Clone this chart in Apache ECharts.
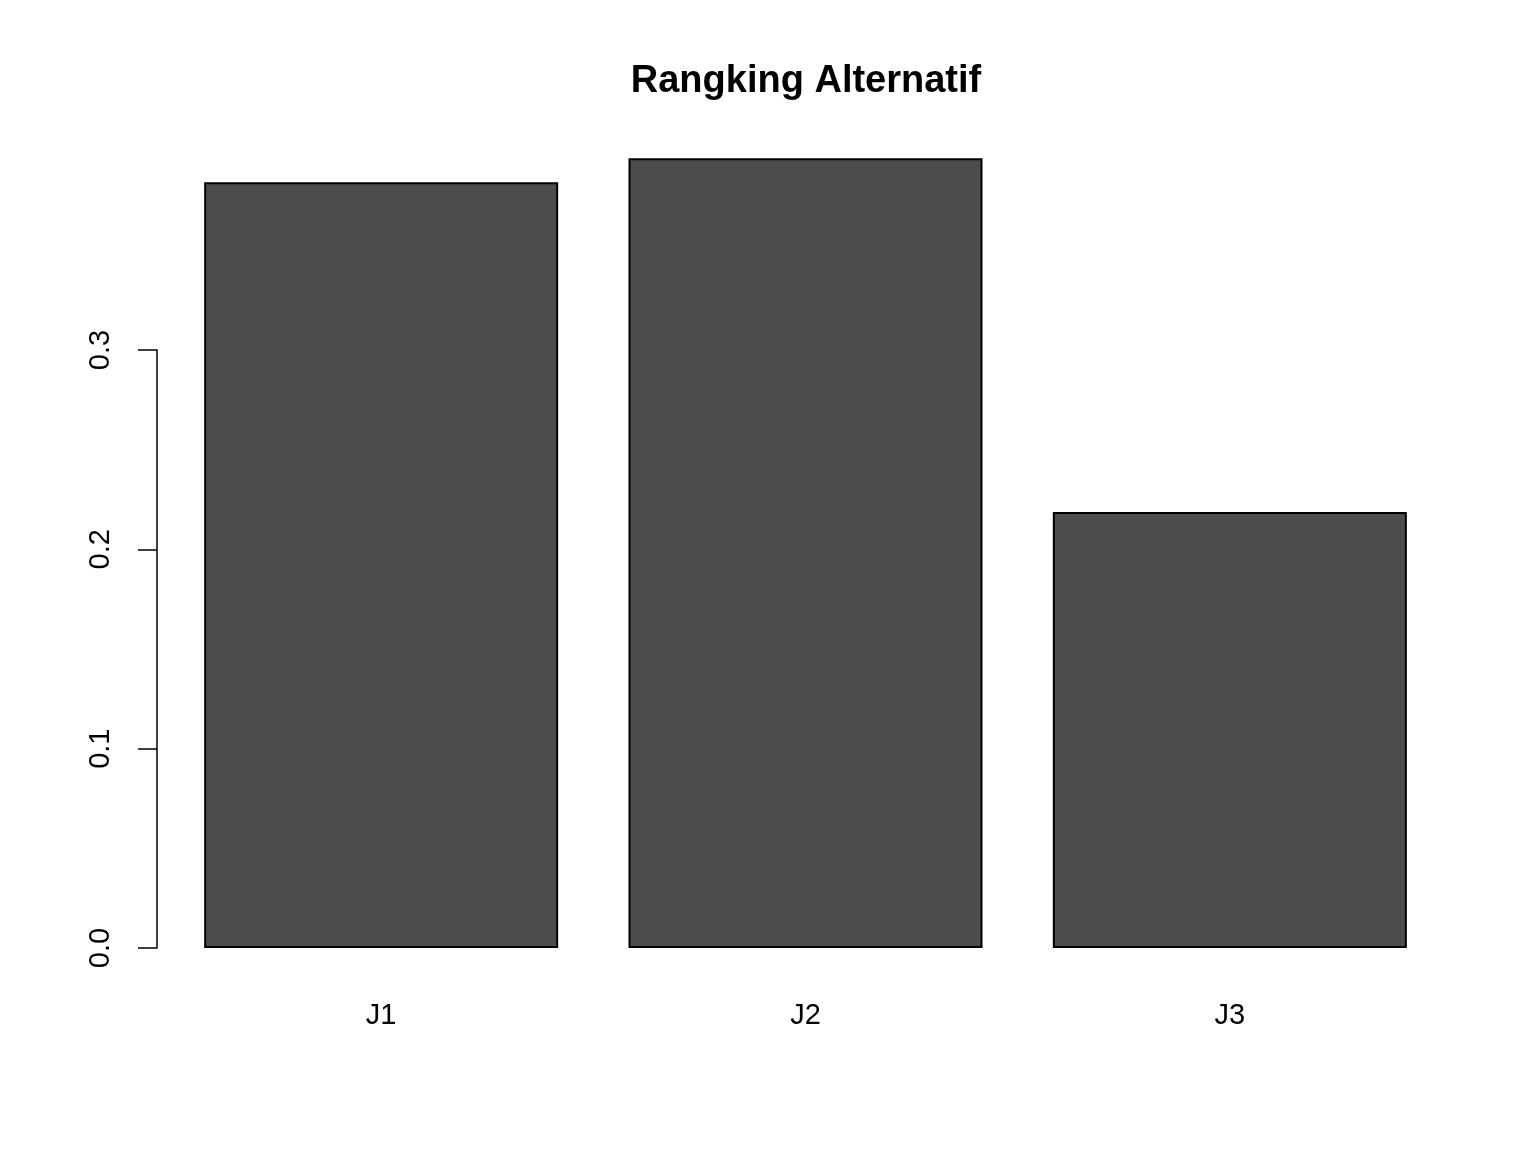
<!DOCTYPE html>
<html>
<head>
<meta charset="utf-8">
<script src="https://cdn.jsdelivr.net/npm/echarts@6/dist/echarts.min.js"></script>
<style>html,body{margin:0;padding:0;background:#fff}#c{width:1536px;height:1152px}</style>
</head>
<body>
<div id="c"></div>
<script>
const categories = ['J1', 'J2', 'J3'];
const values = [0.3843, 0.3964, 0.2188];
const yTicks = [0, 0.1, 0.2, 0.3];

const chart = echarts.init(document.getElementById('c'), null, {renderer: 'canvas'});
const font = 'Liberation Sans, Arial, sans-serif';
chart.setOption({
  backgroundColor: '#ffffff',
  animation: false,
  title: {
    text: 'Rangking Alternatif',
    left: 801, top: 58, textAlign: 'center',
    textStyle: {fontFamily: font, fontSize: 38, fontWeight: 'bold', color: '#000'}
  },
  grid: [
    {left: 169, width: 1273, top: 151, bottom: 204},
    {left: 157, width: 10, top: 350, bottom: 204}
  ],
  xAxis: [
    {type: 'category', gridIndex: 0, data: categories, boundaryGap: true,
     axisLine: {show: false}, axisTick: {show: false},
     axisLabel: {margin: 53, fontFamily: font, fontSize: 29, color: '#000'}},
    {type: 'value', gridIndex: 1, show: false}
  ],
  yAxis: [
    {type: 'value', gridIndex: 0, min: 0, max: 0.4, show: false, splitLine: {show: false}},
    {type: 'value', gridIndex: 1, min: 0, max: yTicks[yTicks.length - 1], interval: 0.1,
     axisLine: {show: true, lineStyle: {color: '#000', width: 1.5}},
     axisTick: {show: true, length: 19, lineStyle: {color: '#000', width: 1.5}},
     splitLine: {show: false},
     axisLabel: {rotate: 90, margin: 42, fontFamily: font, fontSize: 29, color: '#000',
       formatter: v => v.toFixed(1)}}
  ],
  series: [{
    type: 'bar', xAxisIndex: 0, yAxisIndex: 0,
    data: values, barWidth: 354,
    itemStyle: {color: '#4D4D4D', borderColor: '#000', borderWidth: 2}
  }]
});
</script>
</body>
</html>
